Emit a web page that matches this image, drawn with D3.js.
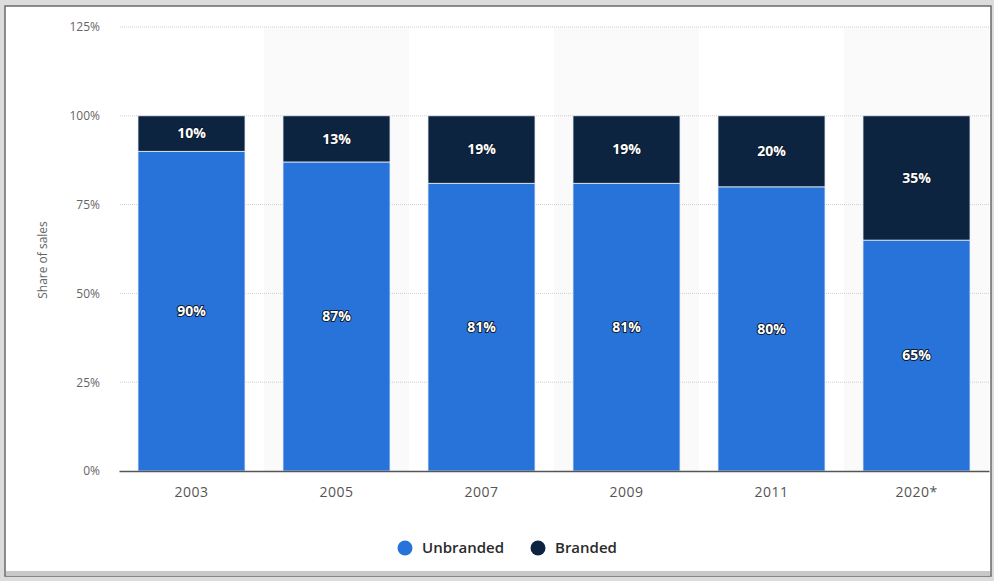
<!DOCTYPE html>
<html>
<head>
<meta charset="utf-8">
<script src="https://cdn.jsdelivr.net/npm/d3@7"></script>
<style>
  body { margin: 0; background: #dcdcdc; }
  text { font-family: "Open Sans", "DejaVu Sans", sans-serif; }
</style>
</head>
<body>
<div id="canvas"></div>
<script>
"use strict"

// data
let years = ["2003", "2005", "2007", "2009", "2011", "2020*"];
let unbranded = [90, 87, 81, 81, 80, 65];
let branded = [10, 13, 19, 19, 20, 35];
let yTicks = [0, 25, 50, 75, 100, 125];
let seriesNames = ["Unbranded", "Branded"];
let seriesColors = ["#2873d9", "#0d2440"];

let drawing = d3.select("#canvas")
    .append("svg")
    .attr("width", 994)
    .attr("height", 581);

// frame round the picture
let frame = drawing.append("rect")
    .attr("x", 5).attr("y", 6)
    .attr("width", 986).attr("height", 570)
    .attr("fill", "white")
    .attr("stroke", "#6a6a6a")
    .attr("stroke-width", 1.5);

let bottomShade = drawing.append("rect")
    .attr("x", 6).attr("y", 571)
    .attr("width", 984).attr("height", 5)
    .attr("fill", "#c8c8c8");

let x = d3.scaleBand()
    .domain(years)
    .range([119, 989])
    .paddingInner(0.262)
    .paddingOuter(0.131);

let y = d3.scaleLinear()
    .domain([0, 125])
    .range([471, 27]);

// alternating column bands
let step = x.step();
drawing.append("g")
    .selectAll("rect")
    .data(years.filter((d, i) => i % 2 === 1))
    .join("rect")
    .attr("x", d => x(d) - (step - x.bandwidth()) / 2)
    .attr("y", y(125))
    .attr("width", step)
    .attr("height", y(0) - y(125))
    .attr("fill", "#fafafa");

// dotted gridlines
drawing.append("g")
    .selectAll("line")
    .data(yTicks.filter(d => d > 0))
    .join("line")
    .attr("x1", 120).attr("x2", 990)
    .attr("y1", d => y(d)).attr("y2", d => y(d))
    .attr("stroke", "#cfcfcf")
    .attr("stroke-width", 1)
    .attr("stroke-dasharray", "1,1");

// y axis labels
let yAxis = drawing.append("g")
    .attr("transform", "translate(100,0)")
    .call(d3.axisLeft(y).tickValues(yTicks).tickFormat(d => d + "%").tickSize(0));
yAxis.select(".domain").remove();
yAxis.selectAll("text")
    .attr("fill", "#666")
    .attr("font-size", 12)
    .attr("x", 0);

drawing.append("text")
    .attr("transform", "translate(47,260) rotate(-90)")
    .attr("text-anchor", "middle")
    .attr("font-size", 12)
    .attr("fill", "#666")
    .text("Share of sales");

// stacked bars
let stacked = years.map((d, i) => ({ year: d, unbranded: unbranded[i], branded: branded[i] }));
let stack = d3.stack().keys(["unbranded", "branded"])(stacked);

let layers = drawing.append("g")
    .selectAll("g")
    .data(stack)
    .join("g")
    .attr("fill", (d, i) => seriesColors[i]);

layers.selectAll("rect")
    .data(d => d)
    .join("rect")
    .attr("x", d => x(d.data.year))
    .attr("y", d => y(d[1]))
    .attr("width", x.bandwidth())
    .attr("height", d => y(d[0]) - y(d[1]))
    .attr("stroke", "#e6eef8")
    .attr("stroke-width", 0.8);

// value labels
layers.selectAll("text")
    .data(d => d)
    .join("text")
    .attr("x", d => x(d.data.year) + x.bandwidth() / 2)
    .attr("y", d => y((d[0] + d[1]) / 2))
    .attr("dy", "0.35em")
    .attr("text-anchor", "middle")
    .attr("font-size", 14)
    .attr("font-weight", "bold")
    .attr("fill", "white")
    .attr("stroke", "#0b1a2c")
    .attr("stroke-width", 2)
    .attr("stroke-linejoin", "round")
    .attr("paint-order", "stroke")
    .text(d => (d[1] - d[0]) + "%");

// x axis
let xAxis = drawing.append("g")
    .attr("transform", "translate(0,471)")
    .call(d3.axisBottom(x).tickSize(0).tickSizeOuter(0));
xAxis.select(".domain")
    .attr("stroke", "#555")
    .attr("stroke-width", 1.5);
xAxis.selectAll("text")
    .attr("fill", "#555")
    .attr("font-size", 14)
    .attr("letter-spacing", "0.5px")
    .attr("dy", "1.65em");

// legend
let legendX = [405, 538];
let legend = drawing.append("g")
    .selectAll("g")
    .data(seriesNames)
    .join("g")
    .attr("transform", (d, i) => "translate(" + legendX[i] + ",548)");
legend.append("circle")
    .attr("r", 7.5)
    .attr("fill", (d, i) => seriesColors[i]);
legend.append("text")
    .attr("x", 17)
    .attr("dy", "0.35em")
    .attr("font-size", 15)
    .attr("font-weight", 600)
    .attr("fill", "#2a2a2a")
    .text(d => d);
</script>
</body>
</html>
